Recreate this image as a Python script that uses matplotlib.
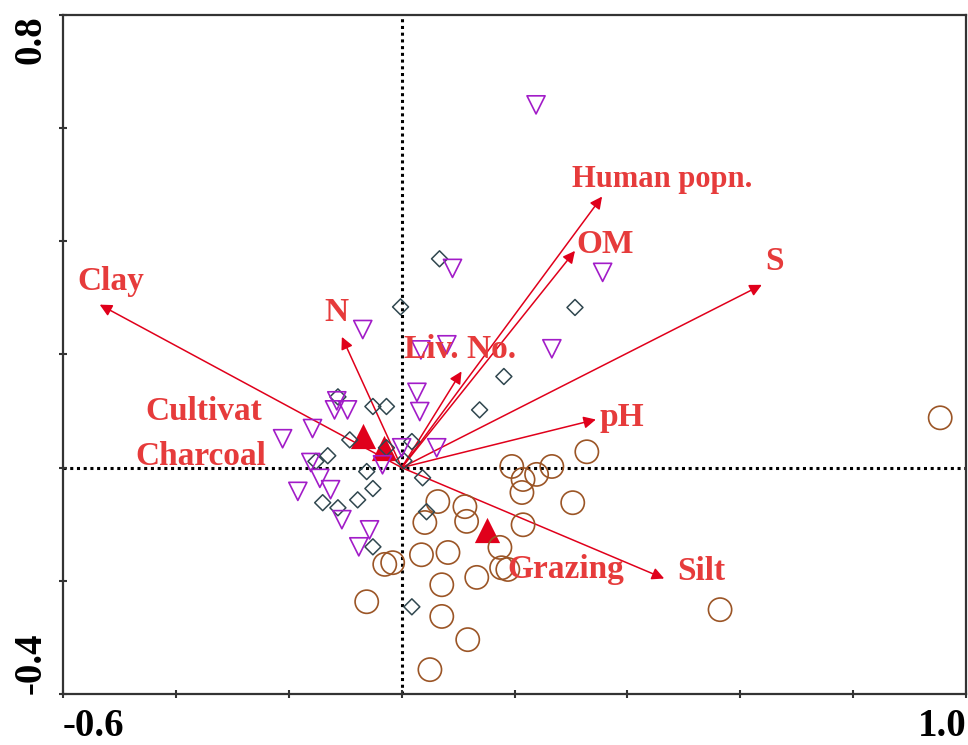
import numpy as np
import matplotlib
matplotlib.use('Agg')
import matplotlib.pyplot as plt

# 样方得分 (axis 1, axis 2)
circle_x = [0.954, 0.564, 0.328, 0.303, 0.266, 0.239, 0.215, 0.195, 0.213, 0.215,
            0.064, 0.112, 0.115, 0.041, 0.174, 0.082, 0.035, -0.016, -0.030, 0.177,
            0.188, 0.071, 0.133, -0.062, 0.071, 0.117, 0.050]
circle_y = [0.088, -0.251, 0.028, -0.062, 0.002, -0.012, -0.021, 0.002, -0.044, -0.101,
            -0.060, -0.069, -0.095, -0.097, -0.141, -0.150, -0.154, -0.168, -0.171, -0.177,
            -0.180, -0.207, -0.194, -0.237, -0.263, -0.304, -0.357]

diamond_x = [0.067, -0.002, 0.307, 0.181, 0.138, -0.113, -0.051, -0.027, -0.092, -0.027,
             0.018, 0.004, -0.131, -0.152, -0.062, 0.037, -0.051, -0.078, -0.140, -0.113,
             -0.051, 0.044, 0.018]
diamond_y = [0.369, 0.284, 0.283, 0.161, 0.102, 0.125, 0.108, 0.108, 0.049, 0.035,
             0.046, 0.012, 0.021, 0.011, -0.007, -0.018, -0.037, -0.057, -0.062, -0.071,
             -0.140, -0.078, -0.246]

tri_x = [0.238, 0.090, 0.356, -0.069, 0.080, 0.034, 0.266, 0.027, 0.032, -0.115,
         -0.096, -0.119, -0.158, -0.211, -0.034, 0.000, 0.062, -0.161, -0.145, -0.126,
         -0.184, -0.106, -0.057, -0.076]
tri_y = [0.641, 0.352, 0.345, 0.244, 0.217, 0.208, 0.210, 0.133, 0.099, 0.118,
         0.102, 0.102, 0.069, 0.051, 0.005, 0.035, 0.035, 0.009, -0.019, -0.039,
         -0.042, -0.092, -0.110, -0.140]

# 环境变量箭头
env_names = ['Human popn.', 'OM', 'S', 'Clay', 'N', 'Liv. No.', 'pH', 'Silt']
env_x = [0.355, 0.307, 0.638, -0.535, -0.106, 0.106, 0.344, 0.465]
env_y = [0.479, 0.383, 0.323, 0.288, 0.231, 0.170, 0.085, -0.196]

# 名义变量质心
nom_names = ['Cultivat', 'Charcoal', 'Grazing']
nom_x = [-0.069, -0.032, 0.152]
nom_y = [0.055, 0.035, -0.111]

# 标签位置 (布局)
env_label_xy = [(0.461, 0.509), (0.360, 0.394), (0.661, 0.364), (-0.516, 0.329),
                (-0.115, 0.274), (0.103, 0.208), (0.390, 0.088), (0.530, -0.184)]
nom_label_xy = [(-0.351, 0.099), (-0.355, 0.019), (0.291, -0.180)]
label_size = [22, 24, 24, 24, 24, 24, 24, 24, 24, 24, 24]

RED = '#e0001b'
TXT = '#e63b3b'
SERIF = ['Liberation Serif', 'DejaVu Serif']

fig = plt.figure(figsize=(9.68, 7.45), dpi=100)
ax = fig.add_axes([0.0651, 0.0685, 0.933, 0.9115])
ax.set_xlim(-0.6, 1.0)
ax.set_ylim(-0.4, 0.8)

ax.axhline(0, color='black', lw=2.2, ls=(0, (1, 1.2)), zorder=1)
ax.axvline(0, color='black', lw=2.2, ls=(0, (1, 1.2)), zorder=1)

for x, y in zip(env_x, env_y):
    ax.annotate('', xy=(x, y), xytext=(0, 0),
                arrowprops=dict(arrowstyle='-|>', color=RED, lw=1.1,
                                mutation_scale=18, shrinkA=0, shrinkB=0),
                zorder=2)

ax.scatter(nom_x, nom_y, marker='^', s=330, color=RED, linewidths=0, zorder=3)

ax.scatter(circle_x, circle_y, marker='o', s=280, facecolors='none',
           edgecolors='#9b5526', linewidths=1.2, zorder=4)
ax.scatter(diamond_x, diamond_y, marker='D', s=66, facecolors='none',
           edgecolors='#30474f', linewidths=1.1, zorder=4)
ax.scatter(tri_x, tri_y, marker='v', s=170, facecolors='none',
           edgecolors='#a21cc8', linewidths=1.2, zorder=4)

for name, (lx, ly), fs in zip(env_names + nom_names, env_label_xy + nom_label_xy, label_size):
    ax.text(lx, ly, name, color=TXT, fontsize=fs, fontweight='bold',
            family=SERIF, ha='center', va='center', zorder=5)

xt = np.round(np.arange(-0.6, 1.01, 0.2), 1)
yt = np.round(np.arange(-0.4, 0.81, 0.2), 1)
ax.set_xticks(xt)
ax.set_yticks(yt)
ax.set_xticklabels(['-0.6'] + [''] * (len(xt) - 2) + ['1.0'])
ax.set_yticklabels(['-0.4'] + [''] * (len(yt) - 2) + ['0.8'])
ax.tick_params(direction='inout', length=6, width=1.5, color='#333333',
               top=False, right=False)
ax.tick_params(axis='x', pad=7)
ax.tick_params(axis='y', pad=20)
for lab in ax.get_xticklabels():
    lab.set_fontsize(28)
    lab.set_fontweight('bold')
    lab.set_family(SERIF)
xl = ax.get_xticklabels()
xl[0].set_ha('left')
xl[-1].set_ha('right')
for lab in ax.get_yticklabels():
    lab.set_fontsize(28)
    lab.set_fontweight('bold')
    lab.set_family(SERIF)
    lab.set_rotation(90)
    lab.set_ha('center')
yl = ax.get_yticklabels()
yl[0].set_va('bottom')
yl[-1].set_va('top')

for sp in ax.spines.values():
    sp.set_linewidth(1.6)
    sp.set_color('#333333')

fig.savefig('out.png', dpi=100)
